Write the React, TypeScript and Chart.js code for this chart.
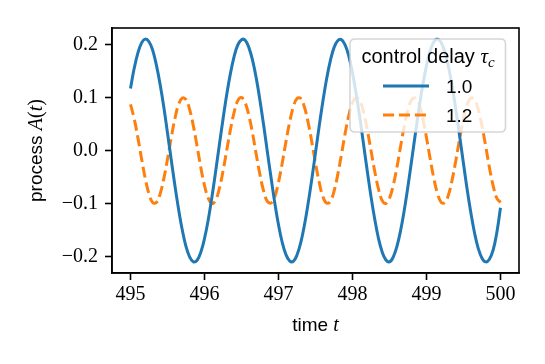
import React, { useEffect, useRef } from "react";
import { Chart, registerables } from "chart.js";

Chart.register(...registerables);

// time samples t (every 0.05 from 495 to 500)
const times = [
  495.0, 495.05, 495.1, 495.15, 495.2, 495.25, 495.3, 495.35, 495.4, 495.45,
  495.5, 495.55, 495.6, 495.65, 495.7, 495.75, 495.8, 495.85, 495.9, 495.95,
  496.0, 496.05, 496.1, 496.15, 496.2, 496.25, 496.3, 496.35, 496.4, 496.45,
  496.5, 496.55, 496.6, 496.65, 496.7, 496.75, 496.8, 496.85, 496.9, 496.95,
  497.0, 497.05, 497.1, 497.15, 497.2, 497.25, 497.3, 497.35, 497.4, 497.45,
  497.5, 497.55, 497.6, 497.65, 497.7, 497.75, 497.8, 497.85, 497.9, 497.95,
  498.0, 498.05, 498.1, 498.15, 498.2, 498.25, 498.3, 498.35, 498.4, 498.45,
  498.5, 498.55, 498.6, 498.65, 498.7, 498.75, 498.8, 498.85, 498.9, 498.95,
  499.0, 499.05, 499.1, 499.15, 499.2, 499.25, 499.3, 499.35, 499.4, 499.45,
  499.5, 499.55, 499.6, 499.65, 499.7, 499.75, 499.8, 499.85, 499.9, 499.95,
  500.0,
];

// process A(t) for control delay tau_c = 1.0
const delay10 = [
  0.117, 0.155, 0.184, 0.203, 0.21, 0.205, 0.189, 0.161, 0.125, 0.082,
  0.033, -0.017, -0.066, -0.111, -0.15, -0.181, -0.201, -0.21, -0.207, -0.192,
  -0.166, -0.131, -0.088, -0.04, 0.01, 0.059, 0.105, 0.145, 0.177, 0.199,
  0.209, 0.208, 0.194, 0.17, 0.136, 0.094, 0.047, -0.003, -0.052, -0.099,
  -0.14, -0.173, -0.196, -0.208, -0.209, -0.197, -0.174, -0.141, -0.1, -0.054,
  -0.004, 0.046, 0.093, 0.135, 0.169, 0.194, 0.207, 0.209, 0.199, 0.178,
  0.146, 0.106, 0.061, 0.011, -0.039, -0.087, -0.129, -0.165, -0.191, -0.206,
  -0.21, -0.201, -0.181, -0.151, -0.112, -0.067, -0.018, 0.032, 0.08, 0.124,
  0.16, 0.188, 0.205, 0.21, 0.203, 0.185, 0.156, 0.118, 0.074, 0.025,
  -0.025, -0.074, -0.118, -0.156, -0.185, -0.203, -0.21, -0.205, -0.188, -0.155,
  -0.108,
];

// process A(t) for control delay tau_c = 1.2
const delay12 = [
  0.087, 0.06, 0.024, -0.016, -0.053, -0.082, -0.098, -0.098, -0.082, -0.053,
  -0.016, 0.024, 0.06, 0.087, 0.099, 0.096, 0.077, 0.046, 0.008, -0.032,
  -0.066, -0.09, -0.1, -0.094, -0.072, -0.039, 0.0, 0.039, 0.072, 0.094,
  0.1, 0.09, 0.066, 0.032, -0.008, -0.046, -0.077, -0.096, -0.099, -0.087,
  -0.06, -0.024, 0.016, 0.053, 0.082, 0.098, 0.098, 0.082, 0.053, 0.016,
  -0.024, -0.06, -0.087, -0.099, -0.096, -0.077, -0.046, -0.008, 0.032, 0.066,
  0.09, 0.1, 0.094, 0.072, 0.039, 0.0, -0.039, -0.072, -0.094, -0.1,
  -0.09, -0.066, -0.032, 0.008, 0.046, 0.077, 0.096, 0.099, 0.087, 0.06,
  0.024, -0.016, -0.053, -0.082, -0.098, -0.098, -0.082, -0.053, -0.016, 0.024,
  0.06, 0.087, 0.099, 0.096, 0.077, 0.046, 0.008, -0.032, -0.066, -0.09,
  -0.098,
];

const seriesLabels = ["1.0", "1.2"];
const xTicks = [495, 496, 497, 498, 499, 500];
const yTicks = [-0.2, -0.1, 0.0, 0.1, 0.2];

const BLUE = "#1f77b4";
const ORANGE = "#ff7f0e";
const SANS = "'Liberation Sans', Arial, sans-serif";
const SERIF = "'Liberation Serif', 'Times New Roman', serif";

type Part = { text: string; font: string; dy?: number };

function drawParts(ctx: CanvasRenderingContext2D, parts: Part[], cx: number, baseline: number, align: "center" | "left") {
  let total = 0;
  const widths = parts.map((p) => {
    ctx.font = p.font;
    const w = ctx.measureText(p.text).width;
    total += w;
    return w;
  });
  let x = align === "center" ? cx - total / 2 : cx;
  ctx.textAlign = "left";
  ctx.textBaseline = "alphabetic";
  parts.forEach((p, i) => {
    ctx.font = p.font;
    ctx.fillText(p.text, x, baseline + (p.dy || 0));
    x += widths[i];
  });
}

const decorPlugin = {
  id: "decor",
  afterDatasetsDraw(chart: any) {
    const ctx: CanvasRenderingContext2D = chart.ctx;
    const a = chart.chartArea;
    ctx.save();
    // frame
    ctx.strokeStyle = "#000";
    ctx.lineWidth = 1.6;
    ctx.strokeRect(a.left, a.top, a.right - a.left, a.bottom - a.top);

    // legend
    const lx = 350, ly = 39, lw = 155.5, lh = 93, r = 5;
    ctx.beginPath();
    ctx.moveTo(lx + r, ly);
    ctx.lineTo(lx + lw - r, ly);
    ctx.quadraticCurveTo(lx + lw, ly, lx + lw, ly + r);
    ctx.lineTo(lx + lw, ly + lh - r);
    ctx.quadraticCurveTo(lx + lw, ly + lh, lx + lw - r, ly + lh);
    ctx.lineTo(lx + r, ly + lh);
    ctx.quadraticCurveTo(lx, ly + lh, lx, ly + lh - r);
    ctx.lineTo(lx, ly + r);
    ctx.quadraticCurveTo(lx, ly, lx + r, ly);
    ctx.closePath();
    ctx.fillStyle = "rgba(255,255,255,0.8)";
    ctx.fill();
    ctx.strokeStyle = "rgba(204,204,204,0.8)";
    ctx.lineWidth = 1.6;
    ctx.stroke();

    ctx.fillStyle = "#000";
    drawParts(
      ctx,
      [
        { text: "control delay ", font: `20px ${SANS}` },
        { text: "τ", font: `italic 21px ${SERIF}` },
        { text: "c", font: `italic 15px ${SERIF}`, dy: 4 },
      ],
      428,
      63,
      "center"
    );

    const rows = [
      { y: 86, color: BLUE, dash: [] as number[] },
      { y: 115, color: ORANGE, dash: [11.1, 4.8] },
    ];
    rows.forEach((row, i) => {
      ctx.beginPath();
      ctx.setLineDash(row.dash);
      ctx.strokeStyle = row.color;
      ctx.lineWidth = 3;
      ctx.lineCap = "butt";
      ctx.moveTo(383, row.y);
      ctx.lineTo(429, row.y);
      ctx.stroke();
      ctx.setLineDash([]);
      ctx.fillStyle = "#000";
      drawParts(ctx, [{ text: seriesLabels[i], font: `19px ${SANS}` }], 446, row.y + 7, "left");
    });

    // axis titles
    ctx.fillStyle = "#000";
    drawParts(
      ctx,
      [
        { text: "time ", font: `19px ${SANS}` },
        { text: "t", font: `italic 20px ${SERIF}` },
      ],
      (a.left + a.right) / 2,
      331,
      "center"
    );
    ctx.save();
    ctx.translate(42, (a.top + a.bottom) / 2);
    ctx.rotate(-Math.PI / 2);
    drawParts(
      ctx,
      [
        { text: "process ", font: `19px ${SANS}` },
        { text: "A", font: `italic 20px ${SERIF}` },
        { text: "(", font: `20px ${SERIF}` },
        { text: "t", font: `italic 20px ${SERIF}` },
        { text: ")", font: `20px ${SERIF}` },
      ],
      0,
      0,
      "center"
    );
    ctx.restore();
    ctx.restore();
  },
};

export default function App() {
  const ref = useRef<HTMLCanvasElement | null>(null);
  useEffect(() => {
    document.body.style.margin = "0";
    if (!ref.current) return;
    const chart = new Chart(ref.current, {
      type: "line",
      data: {
        datasets: [
          {
            label: seriesLabels[0],
            data: times.map((t, i) => ({ x: t, y: delay10[i] })),
            borderColor: BLUE,
            borderWidth: 3,
            pointRadius: 0,
            fill: false,
            tension: 0.4,
          },
          {
            label: seriesLabels[1],
            data: times.map((t, i) => ({ x: t, y: delay12[i] })),
            borderColor: ORANGE,
            borderWidth: 3,
            borderDash: [11.1, 4.8],
            borderCapStyle: "butt",
            pointRadius: 0,
            fill: false,
            tension: 0.4,
          },
        ],
      },
      options: {
        animation: false,
        responsive: false,
        devicePixelRatio: 1,
        layout: { padding: { left: 0, right: 26, top: 28, bottom: 0 } },
        plugins: { legend: { display: false }, tooltip: { enabled: false } },
        scales: {
          x: {
            type: "linear",
            min: 494.75,
            max: 500.25,
            afterBuildTicks: (s: any) => {
              s.ticks = xTicks.map((v) => ({ value: v }));
            },
            afterFit: (s: any) => {
              s.height = 91;
            },
            grid: { drawOnChartArea: false, drawTicks: true, tickLength: 7, tickWidth: 1.6, tickColor: "#000" },
            border: { display: true, color: "#000", width: 1.6 },
            ticks: {
              color: "#000",
              padding: 3,
              maxRotation: 0,
              font: { family: SERIF, size: 20 },
              callback: (v: any) => String(v),
            },
          },
          y: {
            type: "linear",
            min: -0.231,
            max: 0.231,
            afterBuildTicks: (s: any) => {
              s.ticks = yTicks.map((v) => ({ value: v }));
            },
            afterFit: (s: any) => {
              s.width = 112;
            },
            grid: { drawOnChartArea: false, drawTicks: true, tickLength: 7, tickWidth: 1.6, tickColor: "#000" },
            border: { display: true, color: "#000", width: 1.6 },
            ticks: {
              color: "#000",
              padding: 7,
              font: { family: SERIF, size: 20 },
              callback: (v: any) => Number(v).toFixed(1).replace("-", "\u2212"),
            },
          },
        },
      },
      plugins: [decorPlugin],
    } as any);
    return () => chart.destroy();
  }, []);
  return (
    <div style={{ position: "fixed", left: 0, top: 0, width: 545, height: 364 }}>
      <canvas ref={ref} width={545} height={364} style={{ width: 545, height: 364 }} />
    </div>
  );
}
